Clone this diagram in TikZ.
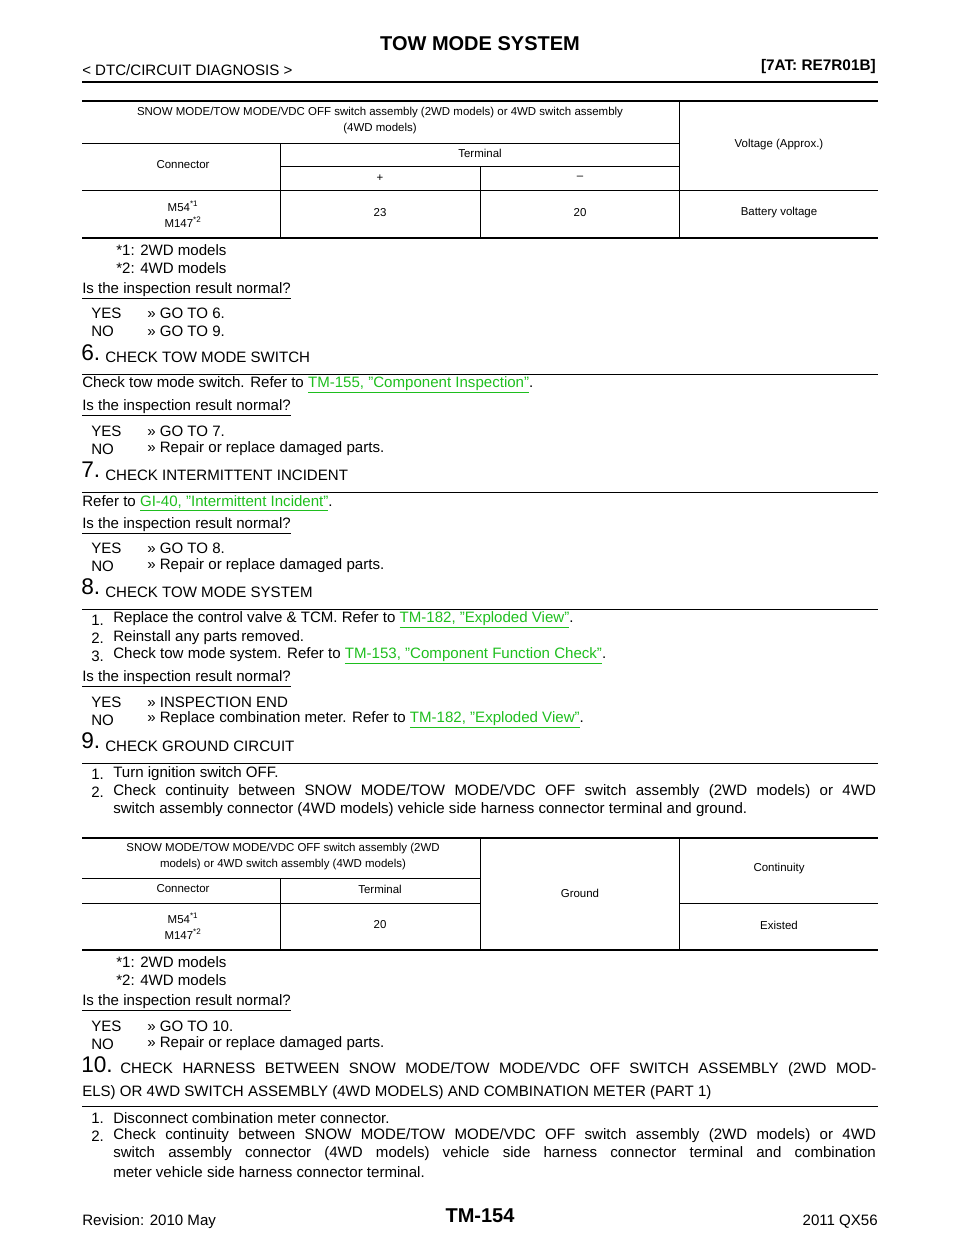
\documentclass[tikz,border=0pt]{standalone}
\usepackage{fontspec}
\setmainfont{Liberation Sans}
\definecolor{lnk}{RGB}{30,190,30}
\newcommand{\lk}[1]{\textcolor{lnk}{\underline{#1}}}
\newcommand{\jl}[2]{\makebox[#1][s]{#2}}
\begin{document}
\begin{tikzpicture}[x=0.75pt,y=-0.75pt,
 txt/.style={anchor=west,inner sep=0pt,font=\fontsize{11.3pt}{13pt}\selectfont},
 tb/.style={inner sep=0pt,align=center,font=\fontsize{8.6pt}{12pt}\selectfont},
 big/.style={anchor=west,inner sep=0pt,font=\fontsize{17pt}{18pt}\selectfont},
 thick3/.style={line width=1.5pt},
 thin1/.style={line width=0.5pt}]
\useasboundingbox (0,0) rectangle (960,1242);
% header
\node[inner sep=0pt,font=\bfseries\fontsize{15pt}{16pt}\selectfont] (title) at (480,44) {TOW MODE SYSTEM};
\node[txt] (sec) at (82,70) {< DTC/CIRCUIT DIAGNOSIS >};
\node[anchor=east,inner sep=0pt,font=\bfseries\fontsize{11.5pt}{13pt}\selectfont] (model) at (876,67) {[7AT: RE7R01B]};
\draw[thick3] (82,82) -- (878,82);
% table 1
\draw[thick3] (82,101) -- (878,101);
\draw[thin1] (82,143) -- (679,143) (280,166) -- (679,166) (82,190) -- (878,190);
\draw[thin1] (280,143) -- (280,238) (480,166) -- (480,238) (679,101) -- (679,238);
\draw[thick3] (82,238) -- (878,238);
\node[tb] (t1h) at (380,121) {SNOW MODE/TOW MODE/VDC OFF switch assembly (2WD models) or 4WD switch assembly\\(4WD models)};
\node[tb] (t1v) at (779,145) {Voltage (Approx.)};
\node[tb] (t1c) at (183,165) {Connector};
\node[tb] (t1t) at (480,153) {Terminal};
\node[tb] (t1p) at (380,178) {+};
\node[tb] (t1m) at (580,178) {–};
\node[tb] (t1r) at (183,214) {M54\textsuperscript{*1}\\M147\textsuperscript{*2}};
\node[tb] (t1a) at (380,213) {23};
\node[tb] (t1b) at (580,213) {20};
\node[tb] (t1bv) at (779,213) {Battery voltage};
\node[txt] (f1) at (116,250) {*1: 2WD models};
\node[txt] (f2) at (116,268) {*2: 4WD models};
\node[txt] (q5) at (82,291) {\underline{Is the inspection result normal?}};
\node[txt] (y5) at (91,313) {YES};\node[txt] (y5b) at (147,313) {>> GO TO 6.};
\node[txt] (n5) at (91,331) {NO};\node[txt] (n5b) at (147,331) {>> GO TO 9.};
% step 6
\node[big] (s6) at (81,353) {6.};\node[txt] (s6t) at (105,357) {CHECK TOW MODE SWITCH};
\draw[thin1] (82,374) -- (878,374);
\node[txt] (s6a) at (82,385) {Check tow mode switch. Refer to \lk{TM-155, "Component Inspection"}.};
\node[txt] (q6) at (82,408) {\underline{Is the inspection result normal?}};
\node[txt] (y6) at (91,431) {YES};\node[txt] (y6b) at (147,431) {>> GO TO 7.};
\node[txt] (n6) at (91,449) {NO};\node[txt] (n6b) at (147,449) {>> Repair or replace damaged parts.};
% step 7
\node[big] (s7) at (81,470) {7.};\node[txt] (s7t) at (105,475) {CHECK INTERMITTENT INCIDENT};
\draw[thin1] (82,492) -- (878,492);
\node[txt] (s7a) at (82,503) {Refer to \lk{GI-40, "Intermittent Incident"}.};
\node[txt] (q7) at (82,526) {\underline{Is the inspection result normal?}};
\node[txt] (y7) at (91,548) {YES};\node[txt] (y7b) at (147,548) {>> GO TO 8.};
\node[txt] (n7) at (91,566) {NO};\node[txt] (n7b) at (147,566) {>> Repair or replace damaged parts.};
% step 8
\node[big] (s8) at (81,587) {8.};\node[txt] (s8t) at (105,592) {CHECK TOW MODE SYSTEM};
\draw[thin1] (82,609) -- (878,609);
\node[txt] (s8a) at (91,620) {1.};\node[txt] (s8ax) at (113,620) {Replace the control valve \& TCM. Refer to \lk{TM-182, "Exploded View"}.};
\node[txt] (s8b) at (91,638) {2.};\node[txt] (s8bx) at (113,638) {Reinstall any parts removed.};
\node[txt] (s8c) at (91,656) {3.};\node[txt] (s8cx) at (113,656) {Check tow mode system. Refer to \lk{TM-153, "Component Function Check"}.};
\node[txt] (q8) at (82,679) {\underline{Is the inspection result normal?}};
\node[txt] (y8) at (91,702) {YES};\node[txt] (y8b) at (147,702) {>> INSPECTION END};
\node[txt] (n8) at (91,720) {NO};\node[txt] (n8b) at (147,720) {>> Replace combination meter. Refer to \lk{TM-182, "Exploded View"}.};
% step 9
\node[big] (s9) at (81,741) {9.};\node[txt] (s9t) at (105,746) {CHECK GROUND CIRCUIT};
\draw[thin1] (82,763) -- (878,763);
\node[txt] (s9a) at (91,774) {1.};\node[txt] (s9ax) at (113,774) {Turn ignition switch OFF.};
\node[txt] (s9b) at (91,792) {2.};\node[txt] (s9bx) at (113,792) {\jl{572pt}{Check continuity between SNOW MODE/TOW MODE/VDC OFF switch assembly (2WD models) or 4WD}};
\node[txt] (s9c) at (113,810) {switch assembly connector (4WD models) vehicle side harness connector terminal and ground.};
% table 2
\draw[thick3] (82,838) -- (878,838);
\draw[thin1] (82,878) -- (480,878) (82,903) -- (480,903) (679,903) -- (878,903);
\draw[thin1] (280,878) -- (280,950) (480,838) -- (480,950) (679,838) -- (679,950);
\draw[thick3] (82,950) -- (878,950);
\node[tb] (t2h) at (283,857) {SNOW MODE/TOW MODE/VDC OFF switch assembly (2WD\\models) or 4WD switch assembly (4WD models)};
\node[tb] (t2g) at (580,893) {Ground};
\node[tb] (t2c) at (779,869) {Continuity};
\node[tb] (t2cn) at (183,889) {Connector};
\node[tb] (t2t) at (380,889) {Terminal};
\node[tb] (t2r) at (183,926) {M54\textsuperscript{*1}\\M147\textsuperscript{*2}};
\node[tb] (t2a) at (380,925) {20};
\node[tb] (t2e) at (779,925) {Existed};
\node[txt] (g1) at (116,962) {*1: 2WD models};
\node[txt] (g2) at (116,980) {*2: 4WD models};
\node[txt] (q9) at (82,1003) {\underline{Is the inspection result normal?}};
\node[txt] (y9) at (91,1026) {YES};\node[txt] (y9b) at (147,1026) {>> GO TO 10.};
\node[txt] (n9) at (91,1044) {NO};\node[txt] (n9b) at (147,1044) {>> Repair or replace damaged parts.};
% step 10
\node[big] (s10) at (81,1065) {10.};
\node[txt] (s10t) at (120,1070) {\jl{567pt}{CHECK HARNESS BETWEEN SNOW MODE/TOW MODE/VDC OFF SWITCH ASSEMBLY (2WD MOD-}};
\node[txt] (s10u) at (82,1093) {ELS) OR 4WD SWITCH ASSEMBLY (4WD MODELS) AND COMBINATION METER (PART 1)};
\draw[thin1] (82,1106) -- (878,1106);
\node[txt] (s10a) at (91,1118) {1.};\node[txt] (s10ax) at (113,1118) {Disconnect combination meter connector.};
\node[txt] (s10b) at (91,1136) {2.};\node[txt] (s10bx) at (113,1136) {\jl{572pt}{Check continuity between SNOW MODE/TOW MODE/VDC OFF switch assembly (2WD models) or 4WD}};
\node[txt] (s10c) at (113,1154) {\jl{572pt}{switch assembly connector (4WD models) vehicle side harness connector terminal and combination}};
\node[txt] (s10d) at (113,1172) {meter vehicle side harness connector terminal.};
% footer
\node[txt] (rev) at (82,1222) {Revision: 2010 May};
\node[inner sep=0pt,font=\bfseries\fontsize{15pt}{16pt}\selectfont] (pg) at (480,1216) {TM-154};
\node[anchor=east,inner sep=0pt,font=\fontsize{11.3pt}{13pt}\selectfont] (yr) at (878,1222) {2011 QX56};
\end{tikzpicture}
\end{document}
